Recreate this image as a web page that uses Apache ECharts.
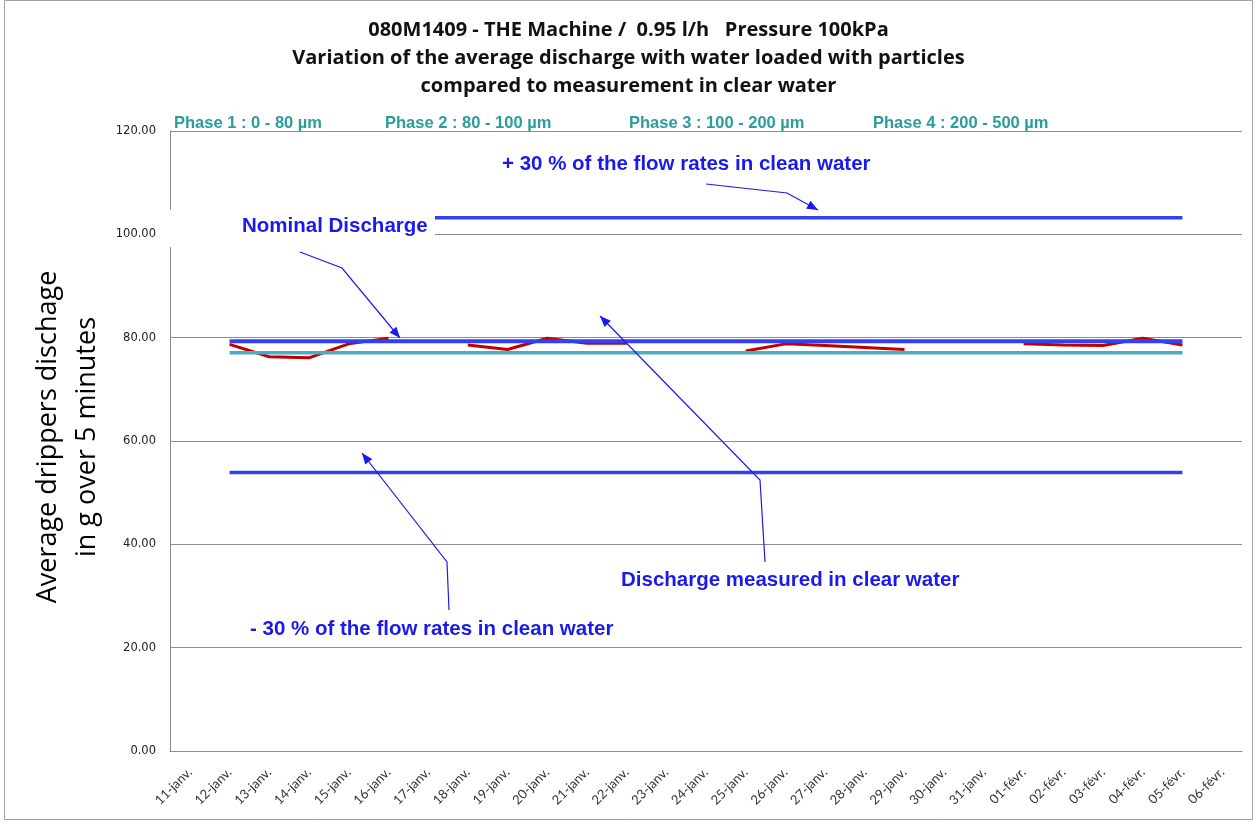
<!DOCTYPE html>
<html>
<head>
<meta charset="utf-8">
<script src="https://cdn.jsdelivr.net/npm/echarts@6/dist/echarts.min.js"></script>
<style>
html,body{margin:0;padding:0;background:#fff;}
#chart{width:1257px;height:825px;}
</style>
</head>
<body>
<div id="chart"></div>
<script>
const categories = ['11-janv.','12-janv.','13-janv.','14-janv.','15-janv.','16-janv.','17-janv.','18-janv.','19-janv.','20-janv.','21-janv.','22-janv.','23-janv.','24-janv.','25-janv.','26-janv.','27-janv.','28-janv.','29-janv.','30-janv.','31-janv.','01-févr.','02-févr.','03-févr.','04-févr.','05-févr.','06-févr.'];
const measured = [null,78.7,76.3,76.1,78.8,79.9,null,78.6,77.7,79.9,78.9,78.9,null,null,77.4,78.8,78.5,78.1,77.7,null,null,78.8,78.6,78.5,79.9,78.6,null];
const nominal = [null,79.3,79.3,79.3,79.3,79.3,79.3,79.3,79.3,79.3,79.3,79.3,79.3,79.3,79.3,79.3,79.3,79.3,79.3,79.3,79.3,79.3,79.3,79.3,79.3,79.3,null];
const clearWater = [null,77.1,77.1,77.1,77.1,77.1,77.1,77.1,77.1,77.1,77.1,77.1,77.1,77.1,77.1,77.1,77.1,77.1,77.1,77.1,77.1,77.1,77.1,77.1,77.1,77.1,null];
const plus30 = [null,103.2,103.2,103.2,103.2,103.2,103.2,103.2,103.2,103.2,103.2,103.2,103.2,103.2,103.2,103.2,103.2,103.2,103.2,103.2,103.2,103.2,103.2,103.2,103.2,103.2,null];
const minus30 = [null,53.9,53.9,53.9,53.9,53.9,53.9,53.9,53.9,53.9,53.9,53.9,53.9,53.9,53.9,53.9,53.9,53.9,53.9,53.9,53.9,53.9,53.9,53.9,53.9,53.9,null];
const titleLines = ['080M1409 - THE Machine /  0.95 l/h   Pressure 100kPa','Variation of the average discharge with water loaded with particles','compared to measurement in clear water'];
const phaseLabels = ['Phase 1 : 0 - 80 µm','Phase 2 : 80 - 100 µm','Phase 3 : 100 - 200 µm','Phase 4 : 200 - 500 µm'];
const yTitle = ['Average drippers dischage','in g over 5 minutes'];

const BLUE = '#3340f2';
const ANN = '#1a1aee';
const TEAL = '#2b9c9c';

function arrow(points) {
  const els = [{
    type: 'polyline', z: 50,
    shape: { points: points },
    style: { stroke: ANN, lineWidth: 1.2, fill: null }
  }];
  const p = points[points.length - 1], q = points[points.length - 2];
  const a = Math.atan2(p[1] - q[1], p[0] - q[0]);
  const L = 11, W = 4.5;
  const bx = p[0] - L * Math.cos(a), by = p[1] - L * Math.sin(a);
  els.push({
    type: 'polygon', z: 50,
    shape: { points: [p, [bx + W * Math.sin(a), by - W * Math.cos(a)], [bx - W * Math.sin(a), by + W * Math.cos(a)]] },
    style: { fill: ANN }
  });
  return els;
}

function ann(text, x, y, align) {
  return {
    type: 'text', z: 60, x: x, y: y,
    style: { text: text, fill: ANN, fontSize: 20.5, fontWeight: 'bold', fontFamily: 'Liberation Sans, Arial', textAlign: align || 'left', textVerticalAlign: 'middle' }
  };
}

const chart = echarts.init(document.getElementById('chart'));
const phaseX = [174, 385, 629, 873];

const graphics = [
  { type: 'rect', z: -1, shape: { x: 4.5, y: 0.5, width: 1248, height: 819 }, style: { fill: null, stroke: '#a0a0a0', lineWidth: 1 } },
  { type: 'rect', z: 40, shape: { x: 168, y: 210, width: 267, height: 37 }, style: { fill: '#fff' } },
  ann('+ 30 % of the flow rates in clean water', 502, 164),
  ann('Nominal Discharge', 242, 226),
  ann('Discharge measured in clear water', 621, 580),
  ann('- 30 % of the flow rates in clean water', 250, 629),
  {
    type: 'text', z: 60, x: 68, y: 437, rotation: Math.PI / 2,
    style: { text: yTitle.join('\n'), fill: '#000', fontSize: 27, fontFamily: 'Open Sans, Lato, sans-serif', textAlign: 'center', textVerticalAlign: 'middle', lineHeight: 39 }
  }
];
phaseLabels.forEach((t, i) => graphics.push({
  type: 'text', z: 60, x: phaseX[i], y: 123,
  style: { text: t, fill: TEAL, fontSize: 16.5, fontWeight: 'bold', fontFamily: 'Liberation Sans, Arial', textAlign: 'left', textVerticalAlign: 'middle' }
}));
graphics.push(...arrow([[706, 184], [787, 193], [818, 210]]));
graphics.push(...arrow([[300, 252], [342, 268], [400, 338]]));
graphics.push(...arrow([[765, 562], [760, 480], [600, 316]]));
graphics.push(...arrow([[449, 610], [447, 562], [362, 453]]));

function lineSeries(name, data, color, width) {
  return {
    name: name, type: 'line', data: data, symbol: 'none', connectNulls: false,
    lineStyle: { color: color, width: width }, itemStyle: { color: color }, silent: true, animation: false
  };
}

chart.setOption({
  animation: false,
  title: {
    text: titleLines.join('\n'), left: 'center', top: 11,
    textStyle: { fontSize: 20, fontWeight: 'bold', fontFamily: 'Open Sans, Lato, sans-serif', color: '#111', lineHeight: 28 }
  },
  grid: { left: 170, right: 15, top: 131, bottom: 74, containLabel: false },
  xAxis: {
    type: 'category', data: categories, boundaryGap: true,
    axisLine: { lineStyle: { color: '#8c8c8c', width: 1 } },
    axisTick: { show: false },
    axisLabel: { rotate: 45, interval: 0, fontSize: 13, color: '#333', fontFamily: 'Lato, Open Sans, sans-serif', margin: 19 }
  },
  yAxis: {
    type: 'value', min: 0, max: 120, interval: 20,
    axisLine: { show: true, lineStyle: { color: '#8c8c8c' } },
    axisTick: { show: false },
    axisLabel: { formatter: v => v.toFixed(2), fontSize: 11.5, color: '#222', fontFamily: 'DejaVu Sans, Verdana', margin: 14 },
    splitLine: { lineStyle: { color: '#8c8c8c', width: 1.2 } }
  },
  series: [
    lineSeries('measured', measured, '#c00000', 3),
    lineSeries('clear', clearWater, '#4bacc6', 3.5),
    lineSeries('nominal', nominal, BLUE, 4),
    lineSeries('plus30', plus30, BLUE, 3.5),
    lineSeries('minus30', minus30, BLUE, 3.5)
  ],
  graphic: graphics
});
</script>
</body>
</html>
